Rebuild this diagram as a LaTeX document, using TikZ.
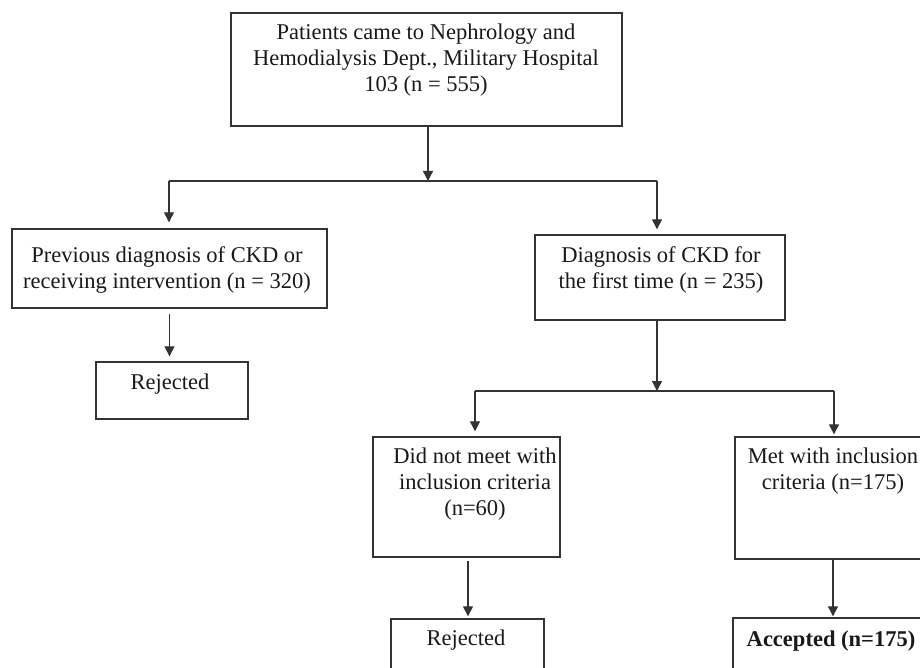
\documentclass[tikz,border=0pt]{standalone}
\usepackage{fontspec}
\setmainfont{Liberation Serif}
\usetikzlibrary{arrows.meta,calc}
\begin{document}
\begin{tikzpicture}[x=1bp,y=-1bp,
  box/.style={draw=black!80,line width=1.4bp,rectangle,inner sep=0pt},
  txt/.style={anchor=north,align=center,inner sep=0pt,font=\fontsize{22.6}{26}\selectfont,text=black!90},
  ln/.style={draw=black!80,line width=1.3bp},
  arr/.style={ln,-{Triangle[length=10bp,width=10bp]}}]
\useasboundingbox (0,0) rectangle (920,668);
\fill[white] (0,0) rectangle (920,668);
\clip (0,0) rectangle (920,668);
% boxes
\node[box,minimum width=391bp,minimum height=113bp] (b1) at (426.5,69.5) {};
\node[box,minimum width=315bp,minimum height=79bp] (b2) at (169.5,268.5) {};
\node[box,minimum width=250bp,minimum height=85bp] (b3) at (660,277.5) {};
\node[box,minimum width=152bp,minimum height=57bp] (b4) at (172,390.5) {};
\node[box,minimum width=187bp,minimum height=120bp] (b5) at (466.5,497) {};
\node[box,minimum width=196bp,minimum height=122bp] (b6) at (833,498) {};
\node[box,minimum width=153bp,minimum height=57bp] (b7) at (467.5,647.5) {};
\node[box,minimum width=200bp,minimum height=57bp] (b8) at (833,646.5) {};
% texts
\node[txt] (t1) at (426,24) {Patients came to Nephrology and\\Hemodialysis Dept., Military Hospital\\103 (n = 555)};
\node[txt] (t2) at (167,246.5) {Previous diagnosis of CKD or\\receiving intervention (n = 320)};
\node[txt] (t3) at (661,246.5) {Diagnosis of CKD for\\the first time (n = 235)};
\node[txt] (t4) at (170,373.5) {Rejected};
\node[txt] (t5) at (475,447.5) {Did not meet with\\inclusion criteria\\(n=60)};
\node[txt] (t6) at (833,447.5) {Met with inclusion\\criteria (n=175)};
\node[txt] (t7) at (466,629.5) {Rejected};
\node[txt] (t8) at (831,630.5) {\bfseries Accepted (n=175)};
% junction lines
\coordinate (h1L) at (169,181);
\coordinate (h1R) at (657,181);
\coordinate (h2L) at (475,391);
\coordinate (h2R) at (834,391);
\draw[ln] (h1L) -- (h1R);
\draw[ln] (h2L) -- (h2R);
% connectors
\draw[arr] ([xshift=1.5bp]b1.south) -- ([xshift=1.5bp]b1.south |- h1L);
\draw[arr,shorten >=6bp] (h1L) -- (h1L |- b2.north);
\draw[arr,shorten >=5bp] (h1R) -- (h1R |- b3.north);
\draw[arr,shorten <=5bp,shorten >=5bp] (b2.south) -- (b2.south |- b4.north);
\draw[arr] ([xshift=-3bp]b3.south) -- ([xshift=-3bp]b3.south |- h2L);
\draw[arr,shorten >=5bp] (h2L) -- (h2L |- b5.north);
\draw[arr,shorten >=2bp] (h2R) -- (h2R |- b6.north);
\draw[arr,shorten <=3bp,shorten >=2bp] ([xshift=1.5bp]b5.south) -- ([xshift=1.5bp]b5.south |- b7.north);
\draw[arr,shorten >=1bp] (b6.south) -- (b6.south |- b8.north);
\end{tikzpicture}
\end{document}
